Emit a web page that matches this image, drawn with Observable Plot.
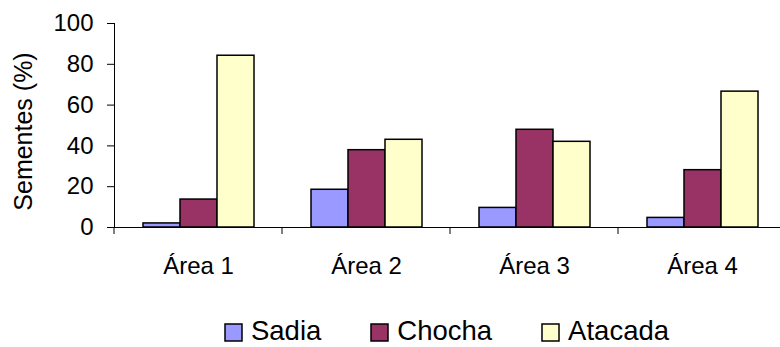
<!DOCTYPE html>
<html>
<head>
<meta charset="utf-8">
<script src="https://cdn.jsdelivr.net/npm/d3@7"></script>
<script src="https://cdn.jsdelivr.net/npm/@observablehq/plot@0.6"></script>
<style>
  html, body { margin: 0; padding: 0; background: #fff; overflow: hidden; }
  #chart { width: 780px; }
  #legend { margin-left: 114px; width: 666px; padding-top: 14px; }
  .lg-swatches {
    justify-content: center;
    font: 27.5px "Liberation Sans", Arial, sans-serif;
    color: #000;
    margin: 0 !important;
    min-height: 33px !important;
  }
  .lg-swatch { margin: 0 25px !important; }
  .lg-swatch > svg {
    margin-right: 9px !important;
    overflow: visible;
    stroke: #000;
    stroke-width: 1.5px;
    position: relative;
    top: 2px;
  }
  .lg-swatch svg rect { stroke: #000; stroke-width: 1.5px; }
</style>
</head>
<body>
<div id="chart"></div>
<div id="legend"></div>
<script>
// Seed percentages per collection area
const areas = ["Área 1", "Área 2", "Área 3", "Área 4"];
const seriesNames = ["Sadia", "Chocha", "Atacada"];
const sadia = [2, 18.5, 9.6, 4.7];
const chocha = [13.7, 37.9, 47.9, 28.1];
const atacada = [84.2, 43, 42, 66.6];
const seriesColors = ["#9999ff", "#993366", "#ffffcc"];
const yTicks = [0, 20, 40, 60, 80, 100];
const yTitle = ["Sementes (%)"];

const rows = [];
areas.forEach((area, i) => {
  rows.push({area, serie: "Sadia", value: sadia[i]});
  rows.push({area, serie: "Chocha", value: chocha[i]});
  rows.push({area, serie: "Atacada", value: atacada[i]});
});

// Short tick at the left boundary of each area group, below the baseline
function boundaryTicks(index, scales, values, dimensions) {
  const x0 = dimensions.marginLeft;
  const y0 = scales.y(0);
  const g = d3.create("svg:g");
  g.append("line")
    .attr("x1", x0).attr("x2", x0)
    .attr("y1", y0).attr("y2", y0 + 7)
    .attr("stroke", "#000");
  return g.node();
}

const plot = Plot.plot({
  width: 780,
  height: 300,
  marginLeft: 114,
  marginRight: -6,
  marginTop: 23,
  marginBottom: 73,
  style: {
    fontFamily: "'Liberation Sans', Arial, sans-serif",
    fontSize: "24px",
    color: "#000",
    background: "#fff",
    overflow: "visible"
  },
  fx: {domain: areas, padding: 0},
  x: {domain: seriesNames, paddingInner: 0, paddingOuter: 0.77, axis: null},
  y: {domain: [0, 100]},
  color: {domain: seriesNames, range: seriesColors},
  marks: [
    Plot.barY(rows, {fx: "area", x: "serie", y: "value", fill: "serie", stroke: "#000", strokeWidth: 1.5}),
    Plot.ruleY([0], {stroke: "#000", strokeWidth: 1.2}),
    Plot.frame({anchor: "left", facetAnchor: "left", stroke: "#000"}),
    Plot.axisY(yTicks, {tickSize: 7, tickPadding: 14, label: null}),
    Plot.text(yTitle, {
      text: (d) => d,
      frameAnchor: "left",
      facetAnchor: "left",
      rotate: -90,
      textAnchor: "middle",
      lineAnchor: "middle",
      fontSize: 25,
      dx: -91,
      dy: 6
    }),
    Plot.axisFx({anchor: "bottom", tickSize: 0, tickPadding: 29, label: null}),
    boundaryTicks
  ]
});

document.getElementById("chart").append(plot);
document.getElementById("legend").append(
  plot.legend("color", {className: "lg", swatchSize: 17})
);
</script>
</body>
</html>
